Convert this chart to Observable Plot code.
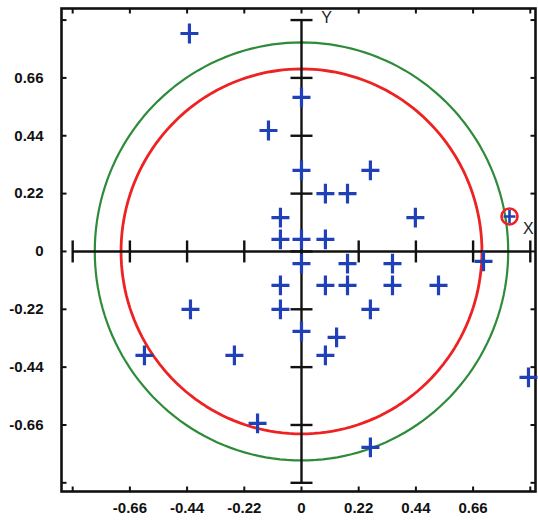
<!DOCTYPE html>
<html><head><meta charset="utf-8">
<script src="https://cdn.jsdelivr.net/npm/d3@7"></script>
<script src="https://cdn.jsdelivr.net/npm/@observablehq/plot@0.6"></script>
<style>body{margin:0;background:#fff;} #chart svg{display:block;}</style>
</head><body><div id="chart"></div>
<script>
// Data
const pointX = [-0.431, 0, -0.127, 0, 0.265, 0.092, 0.177, -0.081, 0.438, -0.081, 0, 0.092,
  0, 0.177, 0.35, 0.70, -0.081, 0.092, 0.177, 0.35, 0.527, -0.081, 0.265, -0.427,
  0, 0.135, 0.092, -0.604, -0.258, 0.873, -0.169, 0.265];
const pointY = [0.829, 0.586, 0.46, 0.308, 0.308, 0.22, 0.22, 0.129, 0.129, 0.046, 0.046, 0.046,
  -0.046, -0.046, -0.046, -0.038, -0.129, -0.129, -0.129, -0.129, -0.129, -0.22, -0.22, -0.22,
  -0.304, -0.327, -0.395, -0.395, -0.395, -0.479, -0.654, -0.745];
const highlightX = [0.80];
const highlightY = [0.133];
const circleRadii = [0.694, 0.795];
const circleColors = ["#ee2222", "#2e8b3a"];
const tickValues = [-0.88, -0.66, -0.44, -0.22, 0, 0.22, 0.44, 0.66, 0.88];
const labelValues = [-0.66, -0.44, -0.22, 0, 0.22, 0.44, 0.66];
const labelText = ["-0.66", "-0.44", "-0.22", "0", "0.22", "0.44", "0.66"];
const axisNames = ["X", "Y"];

const xDomain = [-0.923, 0.9];
const yDomain = [-0.913, 0.924];

// stroke-only custom symbols
const sym = (f) => ({draw(ctx, size) { const r = Math.sqrt(size / Math.PI); f(ctx, r); }});
const plus = sym((c, r) => { c.moveTo(-r, 0); c.lineTo(r, 0); c.moveTo(0, -r * 1.1); c.lineTo(0, r * 1.1); });
const vline = sym((c, r) => { c.moveTo(0, -r); c.lineTo(0, r); });
const hline = sym((c, r) => { c.moveTo(-r, 0); c.lineTo(r, 0); });
const up = sym((c, r) => { c.moveTo(0, 0); c.lineTo(0, -r); });
const down = sym((c, r) => { c.moveTo(0, 0); c.lineTo(0, r); });
const right = sym((c, r) => { c.moveTo(0, 0); c.lineTo(r, 0); });
const left = sym((c, r) => { c.moveTo(0, 0); c.lineTo(-r, 0); });

const points = pointX.map((x, i) => ({x, y: pointY[i]}));
const highlights = highlightX.map((x, i) => ({x, y: highlightY[i]}));
const circles = circleRadii.flatMap((r, k) => d3.range(0, 361, 2).map(a => ({
  k, x: r * Math.cos(a * Math.PI / 180), y: r * Math.sin(a * Math.PI / 180)
})));

const font = "'Liberation Sans', Arial, sans-serif";

const chart = Plot.plot({
  width: 538,
  height: 520,
  marginTop: 8,
  marginRight: 3,
  marginBottom: 29,
  marginLeft: 61,
  style: {fontFamily: font, background: "#fff"},
  x: {domain: xDomain, axis: null},
  y: {domain: yDomain, axis: null},
  marks: [
    // circles
    Plot.line(circles, {x: "x", y: "y", z: "k", stroke: d => circleColors[d.k], strokeWidth: d => d.k === 0 ? 2.8 : 2.2}),
    // axes through origin
    Plot.ruleY([0], {x1: tickValues[0], x2: tickValues[tickValues.length - 1], stroke: "#111", strokeWidth: 2.4}),
    Plot.ruleX([0], {y1: tickValues[0], y2: tickValues[tickValues.length - 1], stroke: "#111", strokeWidth: 2.4}),
    Plot.dot(tickValues, {x: d => d, y: 0, symbol: vline, r: 11, fill: "none", stroke: "#111", strokeWidth: 2.4}),
    Plot.dot(tickValues, {x: 0, y: d => d, symbol: hline, r: 11, fill: "none", stroke: "#111", strokeWidth: 2.4}),
    // frame with inward ticks
    Plot.frame({stroke: "#111", strokeWidth: 2.6}),
    Plot.dot(tickValues, {x: d => d, y: yDomain[0], symbol: up, r: 5, fill: "none", stroke: "#111", strokeWidth: 2}),
    Plot.dot(tickValues, {x: d => d, y: yDomain[1], symbol: down, r: 5, fill: "none", stroke: "#111", strokeWidth: 2}),
    Plot.dot(tickValues, {x: xDomain[0], y: d => d, symbol: right, r: 5, fill: "none", stroke: "#111", strokeWidth: 2}),
    Plot.dot(tickValues, {x: xDomain[1], y: d => d, symbol: left, r: 5, fill: "none", stroke: "#111", strokeWidth: 2}),
    // tick labels
    Plot.text(labelValues, {x: d => d, y: yDomain[0], dy: 17, text: (d, i) => labelText[i], fontSize: 15, fontWeight: "bold", fill: "#111"}),
    Plot.text(labelValues, {x: xDomain[0], y: d => d, dx: -18, text: (d, i) => labelText[i], textAnchor: "end", fontSize: 15, fontWeight: "bold", fill: "#111"}),
    // axis names
    Plot.text([axisNames[0]], {x: tickValues[tickValues.length - 1], y: 0, dx: -2, dy: -23, text: d => d, fontSize: 16, fill: "#222"}),
    Plot.text([axisNames[1]], {x: 0, y: tickValues[tickValues.length - 1], dx: 25, dy: -2, text: d => d, fontSize: 16, fill: "#222"}),
    // data crosses
    Plot.dot(points, {x: "x", y: "y", symbol: plus, r: 9, fill: "none", stroke: "#2040b8", strokeWidth: 3.2}),
    Plot.dot(highlights, {x: "x", y: "y", symbol: plus, r: 6, fill: "none", stroke: "#2040b8", strokeWidth: 2.6}),
    Plot.dot(highlights, {x: "x", y: "y", r: 8, fill: "none", stroke: "#ee2222", strokeWidth: 2.6})
  ]
});
document.getElementById("chart").appendChild(chart);
</script>
</body></html>
